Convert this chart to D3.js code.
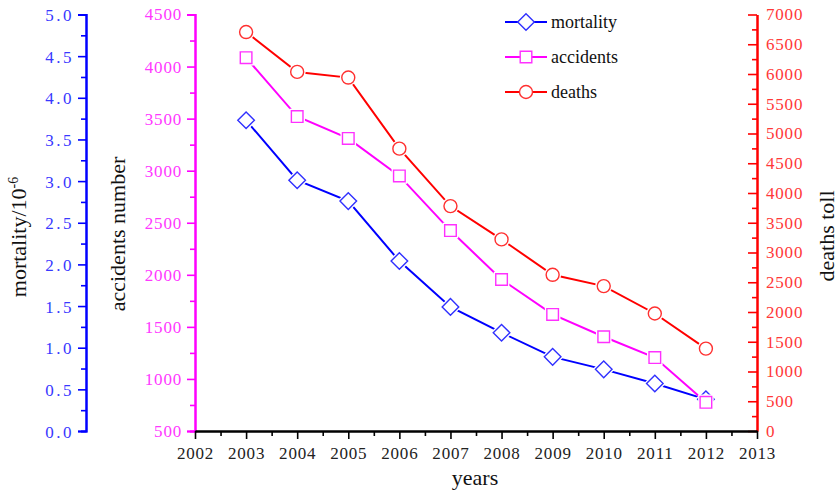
<!DOCTYPE html>
<html>
<head>
<meta charset="utf-8">
<script src="https://cdn.jsdelivr.net/npm/d3@7"></script>
<style>
  html, body { margin: 0; padding: 0; background: #fff; }
  svg { display: block; }
  svg text { font-family: "Liberation Serif", "Times New Roman", Times, serif; }
</style>
</head>
<body>
<svg id="chart" width="839" height="494" font-family="Liberation Serif, serif"></svg>
<script>
// Yearly safety statistics, 2003–2012
const years = [2003, 2004, 2005, 2006, 2007, 2008, 2009, 2010, 2011, 2012];
const mortality = [3.73, 3.01, 2.76, 2.04, 1.49, 1.18, 0.89, 0.74, 0.57, 0.38];
const accidents = [4085, 3520, 3310, 2950, 2425, 1955, 1620, 1405, 1205, 775];
const deaths = [6705, 6035, 5940, 4745, 3780, 3220, 2625, 2435, 1975, 1385];

const yearTicks = [2002, 2003, 2004, 2005, 2006, 2007, 2008, 2009, 2010, 2011, 2012, 2013];
const mortalityTicks = [0, 0.5, 1, 1.5, 2, 2.5, 3, 3.5, 4, 4.5, 5];
const accidentTicks = [500, 1000, 1500, 2000, 2500, 3000, 3500, 4000, 4500];
const deathTicks = [0, 500, 1000, 1500, 2000, 2500, 3000, 3500, 4000, 4500, 5000, 5500, 6000, 6500, 7000];

const SERIF = "Liberation Serif, Times New Roman, serif";
const svg = d3.select("#chart");

const x0 = 195, x1 = 757, yTop = 14.5, yBot = 431;
const x = d3.scaleLinear().domain([2002, 2013]).range([x0, x1]);
const yMort = d3.scaleLinear().domain([0, 5]).range([yBot, yTop]);
const yAcc = d3.scaleLinear().domain([500, 4500]).range([yBot, yTop]);
const yDeath = d3.scaleLinear().domain([0, 7000]).range([yBot, yTop]);

const BLUE = "#0000ff", MAG = "#ff00ff", RED = "#ff0000";
const BLUE_T = "#3838ff", MAG_T = "#ff38ff", RED_T = "#ff3838";

function styleAxis(g, color, textColor) {
  g.attr("font-family", SERIF).attr("font-size", 17);
  g.select(".domain").attr("stroke", color).attr("stroke-width", 2);
  g.selectAll(".tick line").attr("stroke", color).attr("stroke-width", 1.6);
  g.selectAll(".tick text").attr("fill", textColor).attr("letter-spacing", 0.8);
}

// minor ticks halfway between majors
function minors(ticks) {
  const out = [];
  for (let i = 0; i < ticks.length - 1; i++) out.push((ticks[i] + ticks[i + 1]) / 2);
  return out;
}

// mortality axis (far left)
const gMortMinor = svg.append("g").attr("transform", "translate(86,0)")
  .call(d3.axisLeft(yMort).tickValues(minors(mortalityTicks)).tickSize(5).tickFormat(""));
styleAxis(gMortMinor, BLUE, BLUE_T);
const gMort = svg.append("g").attr("transform", "translate(86,0)")
  .call(d3.axisLeft(yMort).tickValues(mortalityTicks).tickSize(8).tickPadding(4)
    .tickFormat(d3.format(".1f")));
styleAxis(gMort, BLUE, BLUE_T);
gMort.selectAll(".tick text").attr("letter-spacing", 2.5).attr("dy", "0.36em");

// accidents axis
const gAccMinor = svg.append("g").attr("transform", `translate(${x0},0)`)
  .call(d3.axisLeft(yAcc).tickValues(minors(accidentTicks)).tickSize(5).tickFormat(""));
styleAxis(gAccMinor, MAG, MAG_T);
const gAcc = svg.append("g").attr("transform", `translate(${x0},0)`)
  .call(d3.axisLeft(yAcc).tickValues(accidentTicks).tickSize(8).tickPadding(5).tickFormat(d3.format("d")));
styleAxis(gAcc, MAG, MAG_T);

// deaths axis (right, ticks pointing inward)
const gDeathMinor = svg.append("g").attr("transform", `translate(${x1},0)`)
  .call(d3.axisRight(yDeath).tickValues(minors(deathTicks)).tickSizeInner(-5).tickSizeOuter(0).tickFormat(""));
styleAxis(gDeathMinor, RED, RED_T);
const gDeath = svg.append("g").attr("transform", `translate(${x1},0)`)
  .call(d3.axisRight(yDeath).tickValues(deathTicks).tickSizeInner(-9).tickSizeOuter(0).tickPadding(9)
    .tickFormat(d3.format("d")));
styleAxis(gDeath, RED, RED_T);

// year axis
const gXMinor = svg.append("g").attr("transform", `translate(0,${yBot})`)
  .call(d3.axisBottom(x).tickValues(minors(yearTicks)).tickSize(5).tickSizeOuter(0).tickFormat(""));
styleAxis(gXMinor, "#000", "#222");
const gX = svg.append("g").attr("transform", `translate(0,${yBot})`)
  .call(d3.axisBottom(x).tickValues(yearTicks).tickSize(8).tickSizeOuter(0).tickPadding(8).tickFormat(d3.format("d")));
styleAxis(gX, "#000", "#222");
gX.select(".domain").attr("stroke-width", 2.2);

// axis titles
const titleSize = 22;
svg.append("text").attr("x", 475).attr("y", 485).attr("text-anchor", "middle")
  .attr("font-size", titleSize).attr("fill", "#111").text("years");

const mt = svg.append("text").attr("transform", "translate(26,237) rotate(-90)")
  .attr("text-anchor", "middle").attr("font-size", titleSize).attr("fill", "#111");
mt.append("tspan").text("mortality/10");
mt.append("tspan").attr("dy", -8).attr("font-size", 14).text("-6");

svg.append("text").attr("transform", "translate(125,234) rotate(-90)")
  .attr("text-anchor", "middle").attr("font-size", titleSize).attr("fill", "#111")
  .text("accidents number");

svg.append("text").attr("transform", "translate(834,236) rotate(-90)")
  .attr("text-anchor", "middle").attr("font-size", titleSize).attr("fill", "#111")
  .text("deaths toll");

// marker shapes
const markerPath = {
  diamond: "M0,-8.3L8.3,0L0,8.3L-8.3,0Z",
  square: "M-5.8,-5.8H5.8V5.8H-5.8Z",
  circle: d3.symbol().type(d3.symbolCircle).size(Math.PI * 6.5 * 6.5)()
};

const series = [
  { name: "mortality", values: mortality, y: yMort, color: BLUE, mcolor: "#3030ff", shape: "diamond" },
  { name: "accidents", values: accidents, y: yAcc, color: MAG, mcolor: "#ff30ff", shape: "square" },
  { name: "deaths", values: deaths, y: yDeath, color: RED, mcolor: "#ff3030", shape: "circle" }
];

series.forEach(s => {
  const pts = years.map((yr, i) => [x(yr), s.y(s.values[i])]);
  svg.append("path").attr("d", d3.line()(pts))
    .attr("fill", "none").attr("stroke", s.color).attr("stroke-width", 2);
  const g = svg.append("g");
  g.selectAll("path.halo").data(pts).join("path").attr("class", "halo")
    .attr("d", markerPath[s.shape]).attr("transform", d => `translate(${d[0]},${d[1]})`)
    .attr("fill", "#fff").attr("stroke", "#fff").attr("stroke-width", 4);
  g.selectAll("path.mk").data(pts).join("path").attr("class", "mk")
    .attr("d", markerPath[s.shape]).attr("transform", d => `translate(${d[0]},${d[1]})`)
    .attr("fill", "none").attr("stroke", s.mcolor).attr("stroke-width", 1.4);
});

// legend
const legendRows = [22, 57, 92];
series.forEach((s, i) => {
  const ly = legendRows[i];
  const g = svg.append("g").attr("transform", `translate(0,${ly})`);
  g.append("line").attr("x1", 505).attr("x2", 547).attr("y1", 0).attr("y2", 0)
    .attr("stroke", s.color).attr("stroke-width", 2);
  g.append("path").attr("d", markerPath[s.shape]).attr("transform", "translate(526,0)")
    .attr("fill", "#fff").attr("stroke", s.mcolor).attr("stroke-width", 1.4);
  g.append("text").attr("x", 551).attr("y", 0).attr("dy", "0.32em")
    .attr("font-size", 18).attr("fill", "#111").text(s.name);
});
</script>
</body>
</html>
